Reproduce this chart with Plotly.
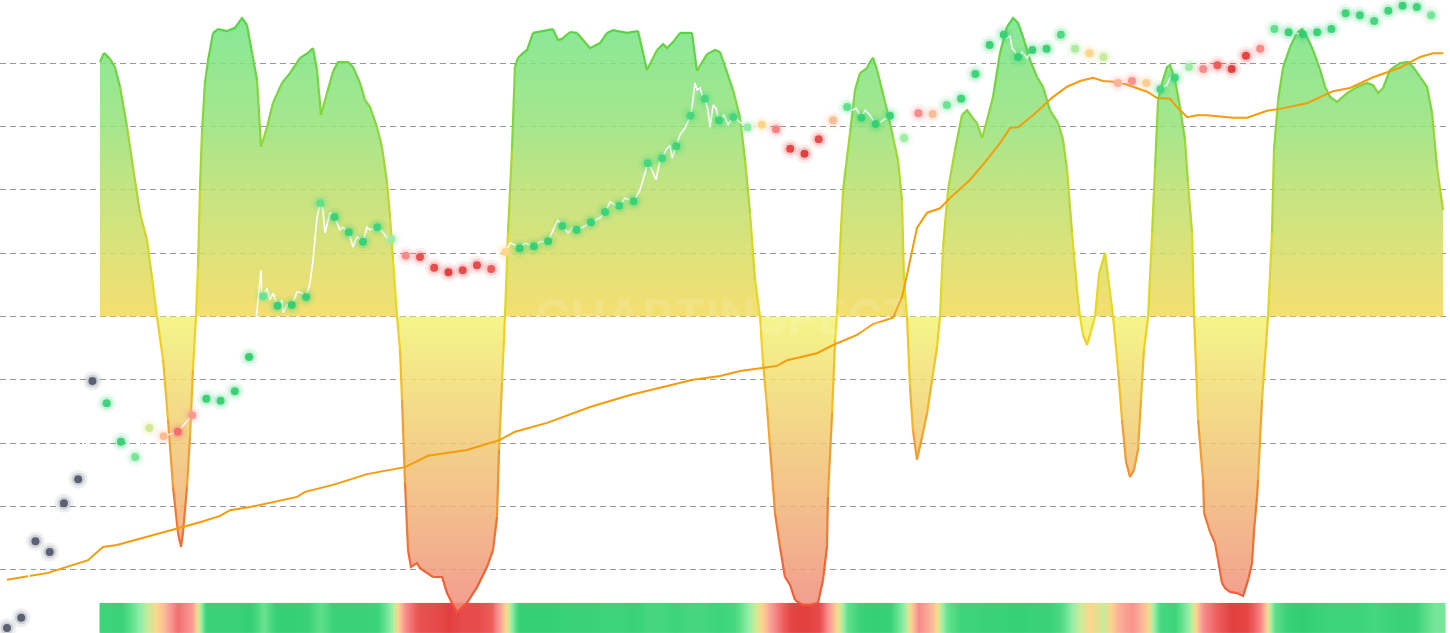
import plotly.graph_objects as go

# ---------------- data ----------------
# dot index (time step) for the periodic price samples
dot_k = list(range(101))
dot_price = [0.8, 2.4, 14.5, 12.8, 20.5, 24.3, 39.8, 36.3, 30.2, 27.8,
             32.4, 31.1, 31.8, 34.4, 37.0, 36.7, 38.2, 43.6, 53.2, 51.7,
             51.8, 53.1, 67.9, 65.7, 63.3, 61.8, 64.1, 62.2, 59.6, 59.4,
             57.7, 57.0, 57.3, 58.1, 57.5, 60.2, 60.8, 61.1, 61.9, 64.3,
             63.7, 64.9, 66.5, 67.5, 68.2, 74.2, 75.0, 76.9, 81.7, 84.4,
             81.0, 81.5, 79.9, 80.3, 79.6, 76.5, 75.7, 78.0, 81.0, 83.1,
             81.4, 80.4, 81.7, 78.2, 82.1, 82.0, 83.4, 84.4, 88.3, 92.9,
             94.5, 91.0, 92.1, 92.3, 94.5, 92.3, 91.6, 91.0, 86.9, 87.2,
             86.9, 85.9, 87.7, 89.4, 89.1, 89.7, 89.1, 91.2, 92.3, 95.4,
             94.9, 94.6, 94.9, 95.4, 97.9, 97.6, 96.7, 98.3, 99.1, 98.9,
             97.6]
dot_signal = [None, None, None, None, None, None, None,
              0.8, 0.85, 0.5, 0.15, -0.15, -0.6, -0.35, 0.85, 0.85, 0.85, 0.9,
              0.55, 0.9, 0.9, 0.85, 0.6, 0.85, 0.85, 0.85, 0.8, 0.35,
              -0.45, -0.8, -0.85, -0.95, -0.85, -0.85, -0.7, 0.0,
              0.9, 0.9, 0.9, 0.85, 0.85, 0.85, 0.8, 0.8, 0.85,
              0.75, 0.75, 0.8, 0.75, 0.75, 0.8, 0.75, 0.4, 0.0,
              -0.5, -0.9, -0.95, -0.85, -0.15, 0.6, 0.85, 0.9, 0.85,
              0.35, -0.45, -0.15, 0.55, 0.8, 0.8, 0.85, 0.85, 0.9, 0.85,
              0.85, 0.7, 0.3, 0.0, 0.2, -0.2, -0.4, -0.05, 0.75, 0.8,
              0.35, -0.45, -0.7, -0.95, -0.9, -0.45, 0.6, 0.85, 0.95,
              0.85, 0.8, 0.8, 0.8, 0.75, 0.8, 0.85, 0.8, 0.5]
# cell edges of the bottom signal strip
strip_edges = [6.5 + i for i in range(94)] + [101.0]

# detailed price path between samples (where it is visible)
price_detail_k = [17.42, 17.63, 17.84, 17.91, 18.26, 18.47, 18.68, 19.31, 19.38, 19.66,
                  20.37, 20.72, 21.28, 21.49, 21.77, 22.19, 22.33, 22.68, 23.38, 23.60,
                  24.30, 24.58, 25.28, 25.49, 26.40, 26.69,
                  35.32, 35.67, 36.38, 37.43, 38.48, 38.69, 39.40, 39.68, 40.59, 41.64,
                  42.35, 42.70, 43.40, 43.75, 44.45, 44.80, 45.29, 45.58, 45.86, 46.28,
                  46.56, 46.70, 47.26, 47.61, 48.17, 48.31, 48.45, 48.67, 48.88, 49.23,
                  49.37, 49.58, 49.79, 50.35, 50.63, 51.47,
                  59.34, 59.62, 60.25, 60.60, 61.31,
                  70.22, 70.44, 70.58, 70.79, 71.28, 71.63,
                  81.46, 81.67]
price_detail_v = [47.9, 52.6, 57.3, 52.6, 54.5, 52.6, 53.7, 52.6, 50.6, 51.8,
                  53.9, 53.7, 55.3, 58.9, 65.7, 66.8, 63.2, 66.4, 63.7, 64.1,
                  61.0, 62.6, 64.1, 63.7, 63.3, 62.4,
                  61.6, 61.3, 61.6, 61.8, 64.3, 65.2, 63.2, 64.0, 64.3, 65.6,
                  68.1, 67.6, 68.7, 68.4, 70.0, 72.8, 73.1, 71.6, 74.7, 76.3,
                  77.1, 75.0, 78.7, 79.8, 84.2, 86.9, 85.8, 86.1, 84.5, 82.6,
                  79.9, 83.4, 82.9, 81.8, 80.3, 80.7,
                  82.6, 82.9, 82.6, 81.8, 80.7,
                  94.0, 94.3, 92.4, 91.8, 91.8, 90.8,
                  86.6, 87.7]

# long moving average (orange)
ma_k = [0, 2.88, 5.69, 6.74, 7.72, 9.83, 11.94, 13.55, 14.96, 15.66, 17.06, 20.37, 20.93,
        22.89, 25.28, 27.95, 29.56, 32.30, 34.62, 35.67, 37.92, 40.94, 43.75, 46.07, 48.17,
        50.07, 51.47, 54.07, 54.78, 56.88, 58.01, 59.69, 60.81, 62.22, 62.85, 63.27, 63.90,
        64.61, 65.52, 66.22, 67.13, 67.63, 68.68, 69.73, 70.44, 71.00, 72.05, 73.46, 74.44,
        75.35, 76.26, 76.97, 78.16, 79.07, 80.06, 80.76, 81.67, 82.16, 82.87, 83.57, 84.27,
        86.10, 87.08, 88.48, 89.40, 91.29, 93.12, 94.31, 95.93, 97.82, 99.23, 100.14, 100.84]
ma_v = [8.4, 9.5, 11.5, 13.6, 13.9, 15.2, 16.4, 17.5, 18.5, 19.4, 19.9, 21.5, 22.3,
        23.4, 25.1, 26.2, 28.0, 28.9, 30.5, 31.8, 33.2, 35.7, 37.6, 38.9, 40.0,
        40.6, 41.4, 42.2, 43.1, 44.2, 45.5, 47.1, 48.8, 49.8, 53.1, 57.3, 64.0,
        66.4, 67.1, 68.7, 70.5, 71.6, 74.4, 77.4, 79.8, 79.9, 81.8, 84.7, 86.3,
        87.2, 87.7, 87.2, 87.0, 86.3, 85.5, 84.5, 84.4, 83.1, 81.5, 81.8, 81.8,
        81.4, 81.4, 82.5, 82.8, 83.7, 85.6, 86.1, 87.8, 89.3, 91.0, 91.6, 91.6]

# oscillator (-100 .. 100)
osc_k = [6.53, 6.81, 7.23, 7.58, 7.94, 8.43, 8.85, 9.34, 9.83, 10.18, 10.53, 10.96, 11.31,
         11.66, 12.01, 12.22, 12.36, 12.64, 12.85, 13.06, 13.27, 13.41, 13.55, 13.69, 13.90,
         14.12, 14.47, 14.82, 15.45, 16.01, 16.50, 16.85, 17.21, 17.56, 17.84, 18.26, 18.68,
         19.31, 19.87, 20.58, 21.14, 21.49, 21.77, 22.05, 22.47, 22.89, 23.24, 23.95, 24.30,
         24.79, 25.14, 25.49, 25.98, 26.33, 26.69, 26.90, 27.11, 27.39, 27.60, 27.74, 27.95,
         28.16, 28.37, 28.79, 29.00, 29.92, 30.55, 30.90, 31.25, 31.60, 32.30, 33.01, 33.71,
         34.13, 34.41, 34.55, 34.76, 34.97, 35.18, 35.46, 35.67, 35.88, 36.24, 36.52, 36.94,
         37.64, 38.34, 38.69, 38.97, 39.54, 40.03, 40.94, 41.64, 42.14, 42.56, 43.54, 44.31,
         44.94, 45.65, 46.07, 46.35, 46.77, 47.26, 48.10, 48.45, 49.16, 49.72, 50.07, 50.42,
         50.98, 51.47, 51.83, 52.18, 52.53, 52.88, 53.09, 53.37, 53.58, 53.93, 54.28, 54.63,
         54.99, 55.34, 55.90, 56.39, 56.95, 57.30, 57.58, 57.65, 57.94, 58.15, 58.29, 58.50,
         58.71, 59.20, 59.55, 59.90, 60.39, 60.60, 60.81, 61.10, 61.45, 61.80, 62.22, 62.57,
         62.85, 62.99, 63.20, 63.41, 63.62, 63.90, 64.26, 64.61, 64.96, 65.31, 65.52, 65.73,
         66.08, 66.57, 67.06, 67.42, 67.77, 68.12, 68.47, 68.82, 69.24, 69.73, 70.22, 70.65,
         71.00, 71.35, 71.84, 72.33, 72.75, 73.24, 73.81, 74.16, 74.44, 74.79, 75.14, 75.35,
         75.56, 75.84, 76.05, 76.40, 76.69, 77.11, 77.32, 77.67, 78.02, 78.30, 78.58, 78.86,
         79.14, 79.42, 79.63, 79.84, 80.13, 80.41, 80.62, 80.83, 81.11, 81.46, 81.67, 82.02,
         82.37, 82.72, 82.93, 83.22, 83.36, 83.64, 83.99, 84.06, 84.27, 84.48, 84.83, 85.04,
         85.32, 85.53, 85.88, 86.38, 86.80, 87.15, 87.43, 87.57, 87.78, 87.85, 88.13, 88.55,
         88.83, 88.97, 89.26, 89.61, 90.10, 90.59, 90.94, 91.29, 91.71, 92.21, 92.56, 92.91,
         93.40, 94.10, 94.80, 95.51, 95.93, 96.28, 96.63, 97.12, 97.82, 98.39, 98.74, 99.23,
         99.72, 100.07, 100.42, 100.84]
osc_v = [80.4, 83.3, 81.4, 78.8, 72.5, 59.9, 47.2, 32.7, 24.2, 12.5, 0.0, -13.7, -32.7,
         -53.9, -68.4, -72.8, -68.4, -53.9, -38.1, -16.9, 0.0, 15.6, 40.0, 58.0, 73.8,
         81.0, 89.6, 90.8, 90.2, 91.2, 94.3, 92.1, 83.3, 74.7, 53.6, 59.9, 67.5,
         73.8, 76.9, 81.7, 83.3, 84.8, 77.9, 63.7, 70.6, 77.3, 80.4, 80.4, 78.8,
         73.8, 68.4, 66.2, 59.9, 53.6, 42.2, 31.4, 17.9, 0.0, -10.6, -26.4, -52.6,
         -73.8, -79.1, -77.9, -79.5, -82.3, -82.3, -87.4, -90.5, -93.4, -90.5, -85.5, -79.1,
         -73.8, -63.3, -42.2, -21.0, 0.0, 26.4, 52.6, 78.8, 81.7, 83.3, 84.2, 89.6,
         90.2, 90.8, 87.4, 87.7, 89.9, 89.6, 84.8, 86.4, 89.6, 90.5, 89.6, 90.2,
         77.9, 84.2, 86.1, 84.8, 86.7, 89.6, 89.6, 77.6, 82.9, 84.2, 83.6, 78.8,
         71.6, 63.0, 49.4, 32.7, 11.5, 0.0, -14.7, -28.6, -41.2, -62.1, -72.8, -82.3,
         -84.8, -89.6, -91.2, -91.2, -90.5, -83.3, -72.8, -57.0, -30.5, -7.4, 1.1, 22.0,
         40.0, 58.0, 71.6, 76.9, 78.5, 80.4, 81.7, 77.9, 71.6, 65.2, 56.7, 49.4,
         36.8, 11.5, 0.0, -22.3, -35.9, -45.3, -38.1, -30.5, -20.1, -9.6, 0.0, 22.0,
         40.0, 52.6, 63.7, 65.2, 63.0, 61.1, 56.4, 62.1, 69.4, 83.3, 91.5, 94.3,
         92.7, 88.3, 81.0, 75.7, 72.5, 65.2, 61.1, 55.8, 46.3, 26.4, 8.4, 0.0,
         -5.8, -9.0, -5.8, 0.0, 13.7, 20.1, 12.5, 0.0, -16.9, -32.7, -46.0, -50.7,
         -48.5, -42.2, -26.4, -10.6, 0.0, 26.4, 47.2, 68.4, 73.8, 78.8, 79.5, 74.7,
         66.2, 55.8, 42.2, 26.4, 0.0, -32.7, -51.7, -62.1, -64.9, -68.1, -71.6, -76.9,
         -84.2, -85.8, -87.0, -87.4, -88.3, -83.3, -77.9, -67.5, -57.0, -51.7, -26.4, 0.0,
         26.4, 52.6, 68.4, 78.8, 85.2, 89.6, 90.8, 88.3, 84.2, 77.9, 72.5, 69.4,
         67.8, 70.6, 72.5, 73.8, 73.1, 70.6, 72.2, 77.9, 80.1, 80.4, 78.8, 75.7,
         72.5, 64.3, 47.2, 33.6]

# ---------------- styling helpers ----------------
SIGNAL_SCALE = [[0.0, "#e03a3a"], [0.15, "#ee5c5c"], [0.275, "#f88a8a"], [0.4, "#fbb39a"],
                [0.5, "#fdd68c"], [0.6, "#c8ec98"], [0.7, "#90eca8"], [0.8, "#5fe08a"],
                [0.9, "#3dd47a"], [1.0, "#2ecc6e"]]

LINE_STOPS = [(-100, (238, 76, 60)), (-60, (240, 128, 50)), (-30, (242, 178, 48)),
              (0, (240, 218, 30)), (30, (200, 214, 40)), (60, (140, 214, 60)),
              (100, (76, 210, 72))]


def line_color(v):
    for (a, ca), (b, cb) in zip(LINE_STOPS[:-1], LINE_STOPS[1:]):
        if v <= b:
            t = max(0.0, min(1.0, (v - a) / (b - a)))
            c = [round(ca[i] + (cb[i] - ca[i]) * t) for i in range(3)]
            return "rgb(%d,%d,%d)" % tuple(c)
    return "rgb(%d,%d,%d)" % LINE_STOPS[-1][1]


fig = go.Figure()

# bottom signal strip
strip_z = [s for s in dot_signal if s is not None]
fig.add_trace(go.Heatmap(x=strip_edges, y=[-100, -95.25, -90.5], z=[strip_z, strip_z],
                         colorscale=SIGNAL_SCALE, zmin=-1, zmax=1, zsmooth="best",
                         showscale=False, hoverinfo="skip"))

# oscillator fills
pos = [max(v, 0) for v in osc_v]
neg = [min(v, 0) for v in osc_v]
A = 0.85
fig.add_trace(go.Scatter(
    x=osc_k, y=pos, mode="lines", line=dict(width=0), fill="tozeroy",
    fillgradient=dict(type="vertical", start=0, stop=95, colorscale=[
        [0.0, f"rgba(243,217,87,{A})"], [0.21, f"rgba(215,221,99,{A})"],
        [0.42, f"rgba(186,223,108,{A})"], [0.63, f"rgba(150,226,120,{A})"],
        [1.0, f"rgba(113,228,133,{A})"]]),
    hoverinfo="skip", showlegend=False))
fig.add_trace(go.Scatter(
    x=osc_k, y=neg, mode="lines", line=dict(width=0), fill="tozeroy",
    fillgradient=dict(type="vertical", start=-95, stop=0, colorscale=[
        [0.0, f"rgba(240,136,124,{A})"], [0.33, f"rgba(241,175,120,{A})"],
        [0.66, f"rgba(241,209,115,{A})"], [1.0, f"rgba(243,243,117,{A})"]]),
    hoverinfo="skip", showlegend=False))

# oscillator outline with value-based colour
NB = 28
runs = []
cur_bin, cur_x, cur_y = None, [], []
for i in range(len(osc_k) - 1):
    mid = (osc_v[i] + osc_v[i + 1]) / 2
    b = int(round((mid + 100) / 200 * NB))
    if b != cur_bin:
        if cur_bin is not None:
            runs.append((cur_bin, cur_x, cur_y))
        cur_bin, cur_x, cur_y = b, [osc_k[i]], [osc_v[i]]
    cur_x.append(osc_k[i + 1])
    cur_y.append(osc_v[i + 1])
runs.append((cur_bin, cur_x, cur_y))
bins = {}
for b, xs, ys in runs:
    bx, by = bins.setdefault(b, ([], []))
    bx.extend(xs + [None])
    by.extend(ys + [None])
for b, (xs, ys) in bins.items():
    v = b / NB * 200 - 100
    fig.add_trace(go.Scatter(x=xs, y=ys, mode="lines",
                             line=dict(color=line_color(v), width=2.2),
                             hoverinfo="skip", showlegend=False))

# orange moving average
fig.add_trace(go.Scatter(x=ma_k, y=ma_v, yaxis="y2", mode="lines",
                         line=dict(color="#f59c0a", width=2), hoverinfo="skip",
                         showlegend=False))

# white price path
pts = sorted(list(zip(dot_k, dot_price)) + list(zip(price_detail_k, price_detail_v)))
fig.add_trace(go.Scatter(x=[p[0] for p in pts], y=[p[1] for p in pts], yaxis="y2",
                         mode="lines", line=dict(color="white", width=1.6),
                         hoverinfo="skip", showlegend=False))

# sample dots with glow
gray_k = [k for k, s in zip(dot_k, dot_signal) if s is None]
gray_v = [p for p, s in zip(dot_price, dot_signal) if s is None]
col_k = [k for k, s in zip(dot_k, dot_signal) if s is not None]
col_v = [p for p, s in zip(dot_price, dot_signal) if s is not None]
col_s = [s for s in dot_signal if s is not None]
for size, op in [(19, 0.10), (13, 0.2)]:
    fig.add_trace(go.Scatter(x=gray_k, y=gray_v, yaxis="y2", mode="markers",
                             marker=dict(size=size, color="#5b6172", opacity=op, line=dict(width=0)),
                             hoverinfo="skip", showlegend=False))
    fig.add_trace(go.Scatter(x=col_k, y=col_v, yaxis="y2", mode="markers",
                             marker=dict(size=size, color=col_s, colorscale=SIGNAL_SCALE,
                                         cmin=-1, cmax=1, opacity=op, line=dict(width=0)),
                             hoverinfo="skip", showlegend=False))
fig.add_trace(go.Scatter(x=gray_k, y=gray_v, yaxis="y2", mode="markers",
                         marker=dict(size=8, color="#5b6172", line=dict(width=0)),
                         hoverinfo="skip", showlegend=False))
fig.add_trace(go.Scatter(x=col_k, y=col_v, yaxis="y2", mode="markers",
                         marker=dict(size=8, color=col_s, colorscale=SIGNAL_SCALE,
                                     cmin=-1, cmax=1, line=dict(width=0)),
                         hoverinfo="skip", showlegend=False))

fig.add_annotation(text="<b>CHARTINSPECT</b>", x=0.5, y=0.5, xref="paper", yref="paper",
                   showarrow=False, font=dict(size=48, color="rgba(255,255,255,0.14)",
                                              family="Inter"))

fig.update_layout(
    width=1450, height=633, margin=dict(l=0, r=0, t=0, b=0),
    paper_bgcolor="white", plot_bgcolor="white", showlegend=False,
    xaxis=dict(range=[-0.49, 101.33], showgrid=False, zeroline=False, showticklabels=False,
               ticks="", showline=False),
    yaxis=dict(range=[-100, 100], dtick=20, tick0=0, showgrid=True, gridcolor="#9a9a9a",
               griddash="6px,4px", gridwidth=1, zeroline=False, showticklabels=False,
               ticks="", showline=False),
    yaxis2=dict(range=[0, 100], overlaying="y", showgrid=False, zeroline=False,
                showticklabels=False, ticks="", showline=False),
)

fig.write_html("out.html", config={"displayModeBar": False},
               post_script="document.body.style.margin='0';document.body.style.padding='0';"
                           "document.documentElement.style.overflow='hidden';")
